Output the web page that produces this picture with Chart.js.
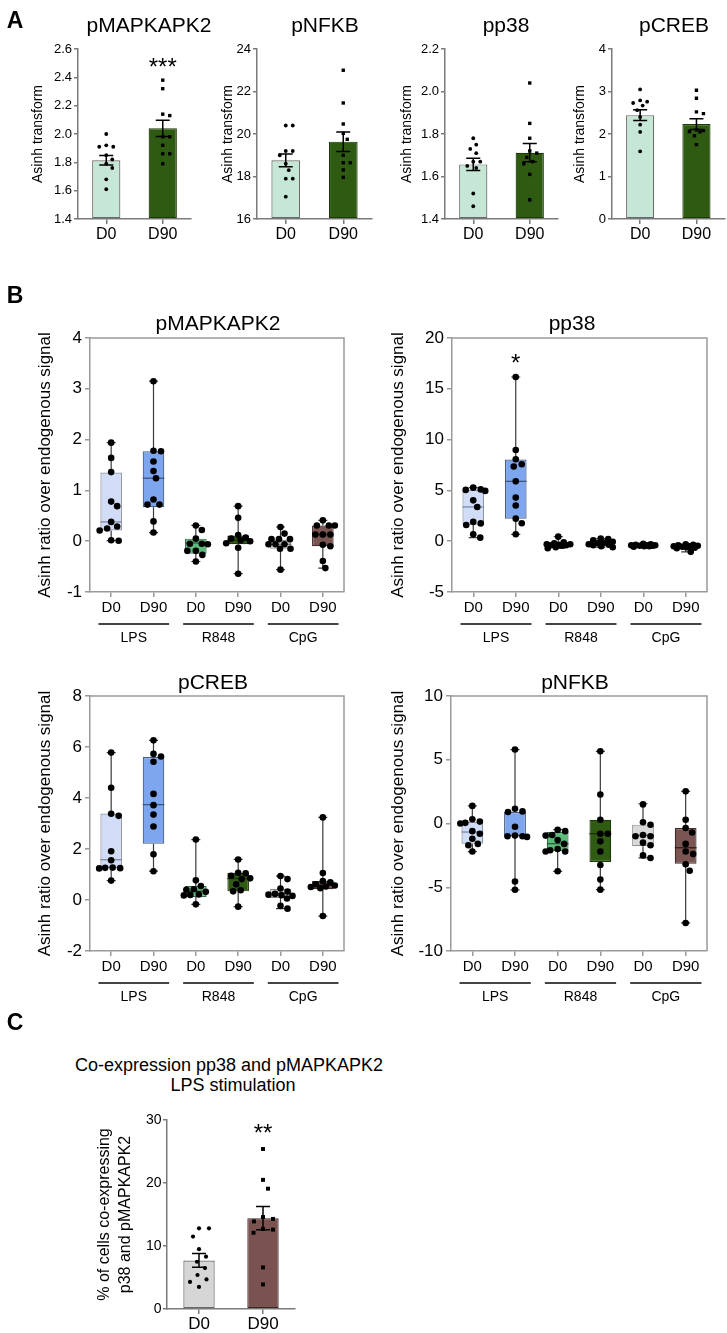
<!DOCTYPE html>
<html>
<head>
<meta charset="utf-8">
<script src="https://cdn.jsdelivr.net/npm/chart.js@4.4.1/dist/chart.umd.min.js"></script>
<style>
body { margin: 0; background: #fff; font-family: 'Liberation Sans', Arial, sans-serif; }
#fig { position: relative; width: 727px; height: 1333px; overflow: hidden; }
#fig canvas { position: absolute; }
.txt { position: absolute; white-space: nowrap; color: #000; line-height: 1; transform: translate(-50%, -50%); }
</style>
</head>
<body>
<div id="fig"></div>
<script>
// ---------- panel A: mean +/- SEM with single donors ----------
const dayLabels = ['D0', 'D90'];

const mk2D0 = [2.00, 1.92, 1.91, 1.91, 1.85, 1.82, 1.79, 1.76, 1.68, 1.61];
const mk2D90 = [2.38, 2.32, 2.14, 2.13, 1.98, 1.98, 1.92, 1.86, 1.86, 1.79];
const mk2Mean = [1.815, 2.04];
const mk2Sem = [0.033, 0.057];

const nfkbD0 = [20.4, 20.4, 19.2, 19.2, 19.0, 18.6, 18.3, 17.9, 17.9, 17.05];
const nfkbD90 = [23.0, 21.46, 20.47, 20.03, 19.75, 19.0, 18.65, 18.65, 18.31, 17.96];
const nfkbMean = [18.76, 19.64];
const nfkbSem = [0.30, 0.46];

const p38D0 = [1.78, 1.75, 1.73, 1.71, 1.67, 1.67, 1.65, 1.64, 1.52, 1.46];
const p38D90 = [2.04, 1.85, 1.78, 1.72, 1.71, 1.69, 1.67, 1.66, 1.61, 1.49];
const p38Mean = [1.657, 1.712];
const p38Sem = [0.029, 0.043];

const crebD0 = [3.05, 2.79, 2.76, 2.73, 2.67, 2.56, 2.40, 2.22, 2.05, 1.59];
const crebD90 = [3.03, 2.84, 2.52, 2.48, 2.10, 2.08, 2.06, 2.05, 1.96, 1.75];
const crebMean = [2.444, 2.233];
const crebSem = [0.125, 0.125];

// ---------- panel B: box plots, [min, q1, median, q3, max] ----------
const stimLabels = ['D0', 'D90', 'D0', 'D90', 'D0', 'D90'];
const stimGroups = ['LPS', 'R848', 'CpG'];

const bMk2Pts = [
    [1.94, 1.64, 1.36, 0.78, 0.69, 0.38, 0.29, 0.25, 0.21, 0.02, 0.01],
    [3.15, 1.78, 1.77, 1.57, 1.38, 1.24, 0.82, 0.72, 0.72, 0.39, 0.17],
    [0.31, 0.22, 0.05, -0.05, -0.05, -0.06, -0.19, -0.19, -0.27, -0.40],
    [0.69, 0.46, 0.12, 0.07, 0.05, 0.02, 0.00, -0.04, -0.13, -0.64],
    [0.28, 0.15, 0.04, 0.04, 0.04, -0.06, -0.06, -0.06, -0.15, -0.15, -0.56],
    [0.41, 0.31, 0.31, 0.31, 0.13, 0.13, 0.13, -0.07, -0.10, -0.39, -0.53]
];
const bMk2Box = [
    [0.01, 0.21, 0.38, 1.35, 1.94],
    [0.17, 0.67, 1.24, 1.77, 3.15],
    [-0.40, -0.245, -0.035, 0.05, 0.31],
    [-0.64, -0.06, 0.02, 0.11, 0.69],
    [-0.56, -0.15, -0.06, 0.03, 0.28],
    [-0.53, -0.10, 0.13, 0.31, 0.41]
];

const bP38Pts = [
    [5.27, 5.1, 5.05, 4.95, 4.02, 3.37, 1.9, 1.75, 1.6, 0.68, 0.35],
    [16.16, 8.98, 8.07, 7.57, 7.35, 5.89, 4.29, 3.51, 2.22, 1.76, 0.68],
    [0.45, -0.1, -0.2, -0.3, -0.3, -0.35, -0.4, -0.4, -0.45, -0.6, -0.7],
    [0.25, 0.2, 0.1, -0.05, -0.15, -0.2, -0.3, -0.35, -0.4, -0.5, -0.6],
    [-0.25, -0.3, -0.35, -0.4, -0.4, -0.4, -0.45, -0.45, -0.5, -0.5, -0.55],
    [-0.3, -0.35, -0.4, -0.45, -0.5, -0.5, -0.55, -0.6, -0.65, -0.7, -1.05]
];
const bP38Box = [
    [0.35, 1.63, 3.37, 5.07, 5.27],
    [0.68, 2.22, 5.89, 8.03, 16.16],
    [-0.7, -0.45, -0.35, -0.2, 0.45],
    [-0.6, -0.4, -0.2, 0.05, 0.25],
    [-0.55, -0.48, -0.4, -0.33, -0.25],
    [-1.05, -0.65, -0.5, -0.4, -0.3]
];

const bCrebPts = [
    [5.78, 4.40, 3.38, 3.30, 1.91, 1.56, 1.27, 1.26, 1.25, 1.24, 0.76],
    [6.26, 5.73, 5.63, 5.42, 4.16, 3.72, 3.35, 2.88, 1.79, 1.13],
    [2.37, 0.77, 0.55, 0.42, 0.40, 0.32, 0.22, 0.20, 0.18, -0.17],
    [1.59, 1.07, 1.05, 0.95, 0.85, 0.82, 0.62, 0.38, 0.34, -0.26],
    [0.94, 0.82, 0.45, 0.33, 0.24, 0.21, 0.19, 0.16, 0.06, -0.23, -0.34],
    [3.24, 1.06, 0.74, 0.69, 0.62, 0.57, 0.53, 0.51, 0.46, -0.63]
];
const bCrebBox = [
    [0.76, 1.255, 1.58, 3.39, 5.78],
    [1.13, 2.21, 3.74, 5.61, 6.26],
    [-0.17, 0.12, 0.35, 0.55, 2.37],
    [-0.26, 0.34, 0.84, 1.07, 1.59],
    [-0.34, 0.08, 0.25, 0.44, 0.94],
    [-0.63, 0.42, 0.58, 0.75, 3.24]
];

const bNfkbPts = [
    [1.38, 0.33, 0.15, 0.05, 0.0, -0.6, -0.8, -1.2, -1.6, -1.7, -2.2],
    [5.8, 1.16, 0.95, 0.9, -0.25, -0.95, -1.0, -1.0, -1.05, -4.55, -5.2],
    [-0.5, -0.6, -0.9, -0.95, -1.3, -1.6, -2.0, -2.1, -2.2, -2.2, -3.75],
    [5.66, 2.28, 0.3, -0.8, -0.8, -1.4, -2.2, -3.25, -4.4, -5.19],
    [1.5, 0.1, -0.1, -0.9, -1.0, -1.0, -1.5, -1.7, -2.5, -2.7],
    [2.52, 0.3, -0.35, -0.7, -1.6, -2.2, -2.4, -3.2, -3.7, -7.8]
];
const bNfkbBox = [
    [-2.2, -1.58, -0.67, 0.12, 1.38],
    [-5.2, -0.98, -0.95, 0.9, 5.8],
    [-3.75, -2.16, -1.58, -0.67, -0.48],
    [-5.19, -3.02, -0.8, 0.3, 5.66],
    [-2.7, -1.79, -0.93, -0.09, 1.55],
    [-7.8, -3.15, -1.9, -0.35, 2.52]
];

// ---------- panel C ----------
const coD0 = [12.8, 12.8, 11.5, 9.5, 8.3, 7.5, 6.5, 5.4, 4.7, 4.3, 3.5];
const coD90 = [25.4, 20.5, 19.1, 14.6, 14.3, 13.9, 12.7, 12.6, 12.1, 6.6, 3.9];
const coMean = [7.71, 14.42];
const coSem = [1.08, 1.85];

// significance marks: [category index, y value of the mark]
const starMk2 = [1, 2.515];
const starP38 = [1, 18.13];
const starCo = [1, 28.9];

// ---------- styles ----------
const FONT = "'Liberation Sans', Arial, Helvetica, sans-serif";
Chart.defaults.font.family = FONT;
Chart.defaults.color = '#000';

const greenFill = ['#c6e7d5', '#2e5a12'];
const greenEdge = ['#6a6a6a', '#1c3a08'];
const greyBrownFill = ['#d6d6d6', '#7a5350'];
const greyBrownEdge = ['#6a6a6a', '#3a2624'];
const boxFill = ['#d1ddf6', '#7da6ee', '#5dbc7c', '#2f5b13', '#d9d9d9', '#7b5551'];
const boxEdge = ['#8c93a3', '#4b5d80', '#2f6a44', '#1d3a0a', '#8f8f8f', '#3f2b29'];
const boxMedian = ['#7e8aa6', '#3f5580', '#2c5f3d', '#1a3308', '#6f6f6f', '#2e1f1e'];

const fig = document.getElementById('fig');

function place(left, top, w, h) {
    const c = document.createElement('canvas');
    c.width = w;
    c.height = h;
    c.style.left = left + 'px';
    c.style.top = top + 'px';
    c.style.width = w + 'px';
    c.style.height = h + 'px';
    fig.appendChild(c);
    return c;
}

function label(str, x, y, size, weight) {
    const d = document.createElement('div');
    d.className = 'txt';
    d.textContent = str;
    d.style.left = x + 'px';
    d.style.top = y + 'px';
    d.style.fontSize = size + 'px';
    if (weight) d.style.fontWeight = weight;
    fig.appendChild(d);
}

// beeswarm-like spread so that dots do not sit on each other
function swarmOffsets(py, d, maxW) {
    const order = py.map((_, i) => i).sort((a, b) => py[a] - py[b]);
    const placed = [];
    const off = [];
    order.forEach(i => {
        let chosen = null, best = -1, bestDx = 0;
        for (let k = 0; ; k++) {
            const dx = (k % 2 === 1 ? 1 : -1) * Math.ceil(k / 2) * 0.5;
            if (Math.abs(dx) > maxW) break;
            let minD = Infinity;
            placed.forEach(p => {
                minD = Math.min(minD, Math.hypot(p.x - dx, p.y - py[i]));
            });
            if (minD >= d) { chosen = dx; break; }
            if (minD > best) { best = minD; bestDx = dx; }
        }
        if (chosen === null) chosen = bestDx;
        off[i] = chosen;
        placed.push({x: chosen, y: py[i]});
    });
    return off;
}

function swarm(chart, d, maxW) {
    const ys = chart.scales.y;
    const ca = chart.chartArea;
    const unit = (ca.right - ca.left) / chart.data.labels.length;
    chart.data.datasets.forEach(ds => {
        if (ds.type !== 'scatter') return;
        const py = ds.data.map(p => ys.getPixelForValue(p.y));
        const off = swarmOffsets(py, d, maxW);
        ds.data.forEach((p, i) => { p.x = ds.group + off[i] / unit; });
    });
    chart.update('none');
}

function pointsSet(values, group, style, radius) {
    return {
        type: 'scatter',
        xAxisID: 'xp',
        group: group,
        data: values.map(v => ({x: group, y: v})),
        pointStyle: style,
        pointRadius: radius,
        pointHoverRadius: radius,
        backgroundColor: '#000',
        borderColor: '#000',
        borderWidth: 0
    };
}

function semPlugin(mean, sem) {
    return {
        id: 'sem',
        afterDatasetDraw(chart, args) {
            if (args.meta.type !== 'bar') return;
            const {ctx, scales: {x, y}} = chart;
            ctx.save();
            ctx.strokeStyle = '#000';
            ctx.lineWidth = 1.5;
            mean.forEach((m, i) => {
                const px = x.getPixelForValue(i);
                const hi = y.getPixelForValue(m + sem[i]);
                const lo = y.getPixelForValue(m - sem[i]);
                ctx.beginPath();
                ctx.moveTo(px, hi); ctx.lineTo(px, lo);
                ctx.moveTo(px - 7, hi); ctx.lineTo(px + 7, hi);
                ctx.moveTo(px - 7, lo); ctx.lineTo(px + 7, lo);
                ctx.stroke();
            });
            ctx.restore();
        }
    };
}

function starPlugin(star, text) {
    return {
        id: 'star',
        afterDraw(chart) {
            const {ctx, scales: {x, y}} = chart;
            ctx.save();
            ctx.font = '24px ' + FONT;
            ctx.fillStyle = '#000';
            ctx.textAlign = 'center';
            ctx.textBaseline = 'alphabetic';
            ctx.fillText(text, x.getPixelForValue(star[0]), y.getPixelForValue(star[1]) + 0.57 * 24);
            ctx.restore();
        }
    };
}

function whiskerPlugin(boxes) {
    return {
        id: 'whiskers',
        beforeDatasetDraw(chart, args) {
            if (args.meta.type !== 'bar') return;
            const {ctx, scales: {x, y}} = chart;
            ctx.save();
            ctx.strokeStyle = '#3a3a3a';
            ctx.lineWidth = 1.2;
            boxes.forEach((b, i) => {
                const px = x.getPixelForValue(i);
                ctx.beginPath();
                ctx.moveTo(px, y.getPixelForValue(b[4])); ctx.lineTo(px, y.getPixelForValue(b[3]));
                ctx.moveTo(px, y.getPixelForValue(b[1])); ctx.lineTo(px, y.getPixelForValue(b[0]));
                ctx.moveTo(px - 4.5, y.getPixelForValue(b[4])); ctx.lineTo(px + 4.5, y.getPixelForValue(b[4]));
                ctx.moveTo(px - 4.5, y.getPixelForValue(b[0])); ctx.lineTo(px + 4.5, y.getPixelForValue(b[0]));
                ctx.stroke();
            });
            ctx.restore();
        },
        afterDatasetDraw(chart, args) {
            if (args.meta.type !== 'bar') return;
            const {ctx, scales: {y}} = chart;
            ctx.save();
            ctx.lineWidth = 1.3;
            boxes.forEach((b, i) => {
                const el = args.meta.data[i];
                const py = y.getPixelForValue(b[2]);
                ctx.strokeStyle = boxMedian[i];
                ctx.beginPath();
                ctx.moveTo(el.x - el.width / 2, py);
                ctx.lineTo(el.x + el.width / 2, py);
                ctx.stroke();
            });
            ctx.restore();
        }
    };
}

const framePlugin = {
    id: 'frame',
    beforeDatasetsDraw(chart) {
        const {ctx, chartArea: a} = chart;
        ctx.save();
        ctx.strokeStyle = '#9a9a9a';
        ctx.lineWidth = 1.5;
        ctx.beginPath();
        ctx.moveTo(a.left, a.top); ctx.lineTo(a.right, a.top); ctx.lineTo(a.right, a.bottom);
        ctx.stroke();
        ctx.restore();
    }
};

const groupPlugin = {
    id: 'groups',
    afterDraw(chart) {
        const {ctx, chartArea: a, scales: {x}} = chart;
        const w = (a.right - a.left) / chart.data.labels.length;
        ctx.save();
        ctx.strokeStyle = '#444';
        ctx.lineWidth = 1.8;
        ctx.fillStyle = '#000';
        ctx.font = '14px ' + FONT;
        ctx.textAlign = 'center';
        ctx.textBaseline = 'middle';
        stimGroups.forEach((g, k) => {
            const x1 = x.getPixelForValue(2 * k) - 0.3 * w;
            const x2 = x.getPixelForValue(2 * k + 1) + 0.37 * w;
            ctx.beginPath();
            ctx.moveTo(x1, a.bottom + 32);
            ctx.lineTo(x2, a.bottom + 32);
            ctx.stroke();
            ctx.fillText(g, (x1 + x2) / 2, a.bottom + 46);
        });
        ctx.restore();
    }
};

function buildChart(o) {
    const lh = o.yTitleSize * o.yTitleLH;
    const nLines = Array.isArray(o.yTitle) ? o.yTitle.length : 1;
    const padL = o.titleX - o.cl - lh * nLines / 2;
    const yW = o.area.l - o.cl - padL;
    const xH = 22;
    const canvas = place(o.cl, o.ct, o.cw, o.ch);
    const n = o.labels.length;
    return new Chart(canvas, {
        type: 'bar',
        data: {labels: o.labels, datasets: o.datasets},
        options: {
            responsive: false,
            animation: false,
            events: [],
            layout: {
                padding: {
                    left: padL,
                    top: o.area.t - o.ct,
                    right: o.cl + o.cw - o.area.r,
                    bottom: o.ct + o.ch - o.area.b - xH
                }
            },
            scales: {
                x: {
                    offset: true,
                    grid: {drawOnChartArea: false, offset: false, color: o.axis, lineWidth: o.axisW, tickLength: 5},
                    border: {color: o.axis, width: o.axisW},
                    ticks: {font: {size: o.xFont}, padding: o.xPad, color: '#000', maxRotation: 0, autoSkip: false},
                    afterFit: s => { s.height = xH; }
                },
                xp: {type: 'linear', display: false, offset: false, grid: {offset: false}, min: -0.5, max: n - 0.5},
                y: {
                    min: o.yMin,
                    max: o.yMax,
                    grid: {drawOnChartArea: false, color: o.axis, lineWidth: o.axisW, tickLength: o.yTick},
                    border: {color: o.axis, width: o.axisW},
                    ticks: {
                        stepSize: o.yStep,
                        font: {size: o.yFont},
                        padding: o.yPad,
                        color: '#000',
                        callback: v => Number(v).toFixed(o.dec)
                    },
                    title: {
                        display: true,
                        text: o.yTitle,
                        font: {size: o.yTitleSize, lineHeight: o.yTitleLH},
                        padding: 0,
                        color: '#000'
                    },
                    afterFit: s => { s.width = yW; }
                }
            },
            plugins: {legend: {display: false}, tooltip: {enabled: false}, title: {display: false}}
        },
        plugins: o.plugins
    });
}

// ---------- panel A ----------
function barPanel(o) {
    const datasets = [
        pointsSet(o.d0, 0, 'circle', 1.9),
        pointsSet(o.d90, 1, 'rect', 2.4),
        {
            type: 'bar',
            data: o.mean,
            base: o.yMin,
            grouped: false,
            backgroundColor: greenFill,
            borderColor: greenEdge,
            borderWidth: 1.2,
            borderSkipped: false,
            barPercentage: 0.5,
            categoryPercentage: 1
        }
    ];
    const plugins = [semPlugin(o.mean, o.sem)];
    if (o.star) plugins.push(starPlugin(o.star, '***'));
    const chart = buildChart(Object.assign({
        labels: dayLabels, datasets, plugins,
        axis: '#7a7a7a', axisW: 1.5, yFont: 13, yPad: 2, yTick: 4, xFont: 16, xPad: 1.4,
        yTitle: 'Asinh transform', yTitleSize: 14, yTitleLH: 1.2,
        ct: 29, ch: 231
    }, o));
    swarm(chart, 7, 10);
}

barPanel({area: {l: 78, r: 191, t: 49, b: 219}, cl: 20, cw: 180, titleX: 38,
    d0: mk2D0, d90: mk2D90, mean: mk2Mean, sem: mk2Sem, yMin: 1.4, yMax: 2.6, yStep: 0.2, dec: 1, star: starMk2});
barPanel({area: {l: 257, r: 372, t: 49, b: 219}, cl: 205, cw: 180, titleX: 228,
    d0: nfkbD0, d90: nfkbD90, mean: nfkbMean, sem: nfkbSem, yMin: 16, yMax: 24, yStep: 2, dec: 0});
barPanel({area: {l: 445, r: 558, t: 49, b: 219}, cl: 390, cw: 180, titleX: 407,
    d0: p38D0, d90: p38D90, mean: p38Mean, sem: p38Sem, yMin: 1.4, yMax: 2.2, yStep: 0.2, dec: 1});
barPanel({area: {l: 612, r: 725, t: 49, b: 219}, cl: 565, cw: 162, titleX: 580,
    d0: crebD0, d90: crebD90, mean: crebMean, sem: crebSem, yMin: 0, yMax: 4, yStep: 1, dec: 0});

// ---------- panel B ----------
function boxPanel(o) {
    const datasets = o.pts.map((vals, g) => pointsSet(vals, g, 'circle', 3.3));
    datasets.push({
        type: 'bar',
        data: o.box.map(b => [b[1], b[3]]),
        grouped: false,
        backgroundColor: boxFill,
        borderColor: boxEdge,
        borderWidth: 1.2,
        borderSkipped: false,
        barPercentage: 0.51,
        categoryPercentage: 1
    });
    const plugins = [framePlugin, whiskerPlugin(o.box), groupPlugin];
    if (o.star) plugins.push(starPlugin(o.star, '*'));
    const chart = buildChart(Object.assign({
        labels: stimLabels, datasets, plugins,
        axis: '#9a9a9a', axisW: 1.5, yFont: 17, yPad: 3, yTick: 5, xFont: 15, xPad: 2,
        yTitle: 'Asinh ratio over endogenous signal', yTitleSize: 17, yTitleLH: 1.2,
        ch: 340, dec: 0
    }, o));
    swarm(chart, 7.5, 12);
}

boxPanel({area: {l: 90, r: 344, t: 338, b: 592}, cl: 20, ct: 318, cw: 335, titleX: 45,
    pts: bMk2Pts, box: bMk2Box, yMin: -1, yMax: 4, yStep: 1});
boxPanel({area: {l: 452, r: 707, t: 338, b: 592}, cl: 375, ct: 318, cw: 345, titleX: 398,
    pts: bP38Pts, box: bP38Box, yMin: -5, yMax: 20, yStep: 5, star: starP38});
boxPanel({area: {l: 90, r: 344, t: 696, b: 951}, cl: 20, ct: 676, cw: 335, titleX: 45,
    pts: bCrebPts, box: bCrebBox, yMin: -2, yMax: 8, yStep: 2});
boxPanel({area: {l: 451, r: 707, t: 696, b: 951}, cl: 375, ct: 676, cw: 345, titleX: 398,
    pts: bNfkbPts, box: bNfkbBox, yMin: -10, yMax: 10, yStep: 5});

// ---------- panel C ----------
(function () {
    const datasets = [
        pointsSet(coD0, 0, 'circle', 2.1),
        pointsSet(coD90, 1, 'rect', 2.8),
        {
            type: 'bar',
            data: coMean,
            base: 0,
            grouped: false,
            backgroundColor: greyBrownFill,
            borderColor: greyBrownEdge,
            borderWidth: 1.2,
            borderSkipped: false,
            barPercentage: 0.49,
            categoryPercentage: 1
        }
    ];
    const chart = buildChart({
        area: {l: 167, r: 295, t: 1120, b: 1309}, cl: 85, ct: 1100, cw: 220, ch: 233, titleX: 115,
        labels: dayLabels, datasets, plugins: [semPlugin(coMean, coSem), starPlugin(starCo, '**')],
        axis: '#7a7a7a', axisW: 1.5, yFont: 14, yPad: 1.5, yTick: 4, xFont: 17, xPad: 0.5,
        yTitle: ['% of cells co-expressing', 'p38 and pMAPKAPK2'], yTitleSize: 16, yTitleLH: 1.35,
        yMin: 0, yMax: 30, yStep: 10, dec: 0
    });
    swarm(chart, 10, 10);
})();

// ---------- titles and panel letters ----------
label('A', 15, 20, 23, 'bold');
label('B', 15, 295, 23, 'bold');
label('C', 15, 1022, 23, 'bold');

label('pMAPKAPK2', 149, 24, 21);
label('pNFKB', 325, 24, 21);
label('pp38', 506, 24, 21);
label('pCREB', 674, 24, 21);

label('pMAPKAPK2', 218, 322, 21);
label('pp38', 572, 322, 21);
label('pCREB', 213, 681, 21);
label('pNFKB', 575, 681, 21);

label('Co-expression pp38 and pMAPKAPK2', 229, 1065, 18);
label('LPS stimulation', 233, 1085, 18);
</script>
</body>
</html>
